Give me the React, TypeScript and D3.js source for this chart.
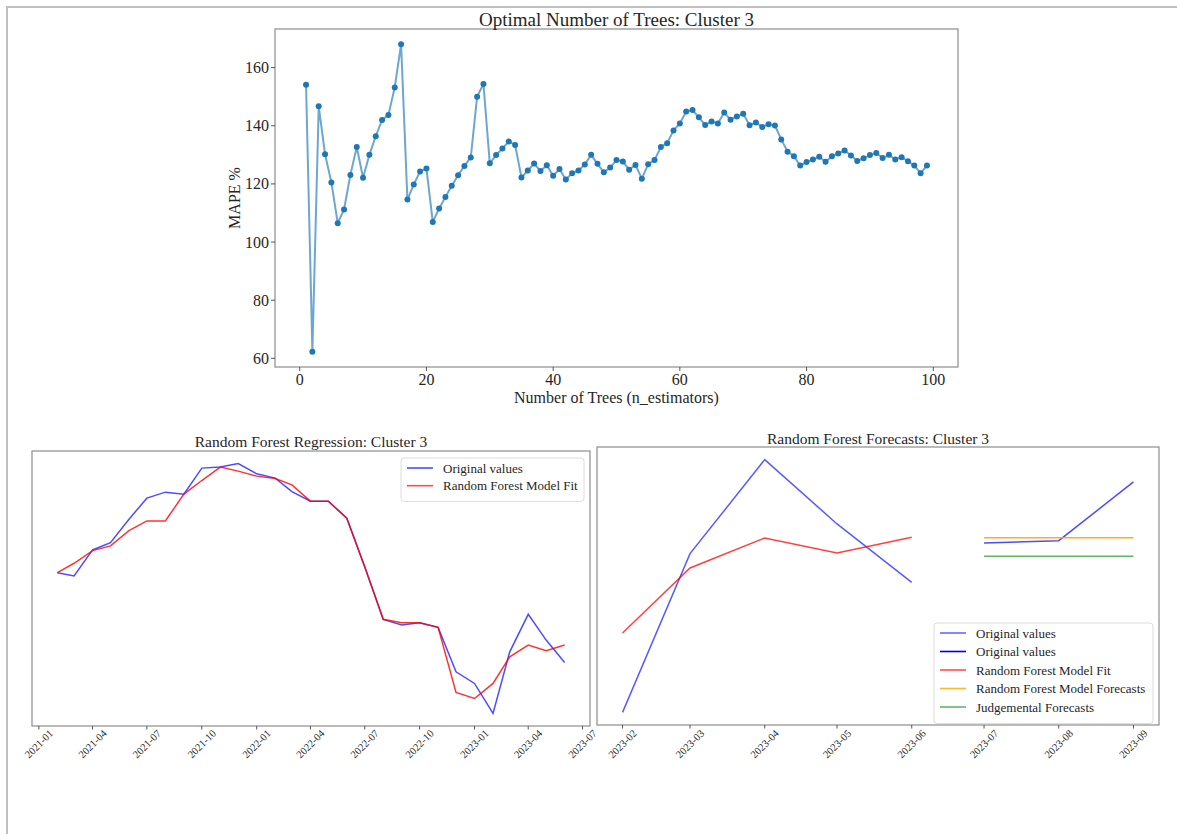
import React, { useEffect, useRef } from "react";
import * as d3 from "d3";

// --- top chart: MAPE % for n_estimators = 1..99
const treeCounts = d3.range(1, 100);
const mapeValues = [
  154.1, 62.3, 146.7, 130.2, 120.5, 106.5, 111.2, 123.1, 132.7, 122.1,
  130.0, 136.4, 142.0, 143.7, 153.2, 168.0, 114.6, 119.8, 124.3, 125.3,
  106.9, 111.5, 115.5, 119.4, 123.0, 126.2, 129.1, 150.0, 154.4, 127.1,
  129.9, 132.2, 134.6, 133.4, 122.2, 124.6, 127.0, 124.4, 126.4, 122.8,
  125.1, 121.5, 123.7, 124.6, 126.7, 130.0, 126.9, 124.0, 125.6, 128.2,
  127.7, 124.9, 126.5, 121.8, 126.8, 128.2, 132.7, 134.0, 138.4, 140.8,
  144.9, 145.4, 142.9, 140.3, 141.5, 140.8, 144.6, 142.1, 143.2, 144.1,
  140.2, 141.1, 139.6, 140.5, 140.1, 135.3, 131.1, 129.5, 126.3, 127.5,
  128.4, 129.3, 127.6, 129.5, 130.5, 131.5, 129.8, 127.9, 128.8, 129.9,
  130.6, 128.9, 130.0, 128.4, 129.2, 127.8, 126.3, 123.7, 126.3
];
const mapeYTicks = [60, 80, 100, 120, 140, 160];
const mapeXTicks = [0, 20, 40, 60, 80, 100];

// --- bottom left: regression fit, monthly 2021-02 .. 2023-06
const fitMonths = [
  "2021-02", "2021-03", "2021-04", "2021-05", "2021-06", "2021-07", "2021-08", "2021-09",
  "2021-10", "2021-11", "2021-12", "2022-01", "2022-02", "2022-03", "2022-04", "2022-05",
  "2022-06", "2022-07", "2022-08", "2022-09", "2022-10", "2022-11", "2022-12", "2023-01",
  "2023-02", "2023-03", "2023-04", "2023-05", "2023-06"
];
const fitOriginal = [
  227.3, 224.0, 250.0, 257.3, 280.7, 301.7, 307.7, 305.7, 331.7, 332.7, 336.3, 326.0,
  321.7, 308.3, 298.7, 298.7, 281.7, 233.3, 180.7, 175.0, 177.3, 172.7, 128.3, 116.7,
  86.7, 148.3, 185.7, 160.0, 137.7
];
const fitModel = [
  227.3, 236.7, 249.3, 254.0, 269.3, 279.0, 279.0, 305.7, 319.3, 332.7, 328.7, 323.7,
  321.3, 315.0, 298.7, 298.7, 281.7, 233.3, 180.7, 177.3, 177.3, 172.7, 107.7, 101.7,
  116.7, 143.3, 155.0, 149.3, 155.0
];

// --- bottom right: forecasts
const testMonths = ["2023-02", "2023-03", "2023-04", "2023-05", "2023-06"];
const testOriginal = [87.3, 246.0, 340.0, 275.7, 217.3];
const testFit = [166.7, 231.7, 261.7, 246.7, 262.3];
const futureMonths = ["2023-07", "2023-08", "2023-09"];
const futureOriginal = [256.7, 259.0, 317.7];
const rfForecasts = [262.0, 262.0, 262.0];
const judgementalForecasts = [243.3, 243.3, 243.3];

const FONT = "'Liberation Serif', 'DejaVu Serif', serif";
const TEXT = "#262626";
const SPINE = "#8c8c8c";

const parseMonth = d3.utcParse("%Y-%m");
const fmtMonth = d3.utcFormat("%Y-%m");

const padded = (lo, hi) => {
  const p = (hi - lo) * 0.05;
  return [lo - p, hi + p];
};

const frame = (g, x0, y0, x1, y1) =>
  g
    .append("rect")
    .attr("x", x0)
    .attr("y", y0)
    .attr("width", x1 - x0)
    .attr("height", y1 - y0)
    .attr("fill", "none")
    .attr("stroke", SPINE)
    .attr("stroke-width", 1.2);

const legend = (g, x0, y0, w, rowH, items) => {
  const h = rowH * items.length + 8;
  g.append("rect")
    .attr("x", x0)
    .attr("y", y0)
    .attr("width", w)
    .attr("height", h)
    .attr("rx", 3)
    .attr("fill", "white")
    .attr("fill-opacity", 0.85)
    .attr("stroke", "#dcdcdc");
  items.forEach((it, i) => {
    const cy = y0 + 10 + i * rowH;
    g.append("line")
      .attr("x1", x0 + 6)
      .attr("x2", x0 + 32)
      .attr("y1", cy)
      .attr("y2", cy)
      .attr("stroke", it.color)
      .attr("stroke-opacity", it.opacity)
      .attr("stroke-width", 1.6);
    g.append("text")
      .attr("x", x0 + 42)
      .attr("y", cy)
      .attr("dominant-baseline", "central")
      .attr("font-size", 13)
      .attr("fill", TEXT)
      .text(it.label);
  });
};

const dateAxis = (g, x, ticks, yBase, labelY) => {
  ticks.forEach(t => {
    g.append("line")
      .attr("x1", x(t))
      .attr("x2", x(t))
      .attr("y1", yBase)
      .attr("y2", yBase + 3.5)
      .attr("stroke", "#555");
    g.append("text")
      .attr("transform", `translate(${x(t)},${labelY}) rotate(-45)`)
      .attr("text-anchor", "middle")
      .attr("dominant-baseline", "central")
      .attr("font-size", 10.5)
      .attr("fill", TEXT)
      .text(fmtMonth(t));
  });
};

const App = () => {
  const ref = useRef();

  useEffect(() => {
    const svg = d3.select(ref.current);
    svg.selectAll("*").remove();
    svg.attr("font-family", FONT);

    // page border
    svg.append("path")
      .attr("d", "M7,834 L7,7 L1177,7")
      .attr("fill", "none")
      .attr("stroke", "#c0c0c0")
      .attr("stroke-width", 2);

    // === TOP CHART ===
    const top = svg.append("g");
    const tl = 275, tr = 958, tt = 29, tb = 367;
    const x = d3.scaleLinear().domain(padded(1, 99)).range([tl, tr]);
    const y = d3.scaleLinear().domain(padded(d3.min(mapeValues), d3.max(mapeValues))).range([tb, tt]);

    frame(top, tl, tt, tr, tb);

    mapeXTicks.forEach(t => {
      top.append("line").attr("x1", x(t)).attr("x2", x(t)).attr("y1", tb).attr("y2", tb + 4).attr("stroke", "#555");
      top.append("text")
        .attr("x", x(t))
        .attr("y", tb + 12)
        .attr("text-anchor", "middle")
        .attr("dominant-baseline", "central")
        .attr("font-size", 16)
        .attr("fill", TEXT)
        .text(t);
    });
    mapeYTicks.forEach(t => {
      top.append("line").attr("x1", tl - 4).attr("x2", tl).attr("y1", y(t)).attr("y2", y(t)).attr("stroke", "#555");
      top.append("text")
        .attr("x", tl - 6)
        .attr("y", y(t))
        .attr("text-anchor", "end")
        .attr("dominant-baseline", "central")
        .attr("font-size", 16)
        .attr("fill", TEXT)
        .text(t);
    });

    const line = d3.line().x((d, i) => x(treeCounts[i])).y(d => y(d));
    top.append("path")
      .attr("d", line(mapeValues))
      .attr("fill", "none")
      .attr("stroke", "#1f77b4")
      .attr("stroke-opacity", 0.65)
      .attr("stroke-width", 2);
    top.selectAll("circle")
      .data(mapeValues)
      .join("circle")
      .attr("cx", (d, i) => x(treeCounts[i]))
      .attr("cy", d => y(d))
      .attr("r", 3)
      .attr("fill", "#1f77b4");

    top.append("text")
      .attr("x", (tl + tr) / 2)
      .attr("y", 19)
      .attr("text-anchor", "middle")
      .attr("dominant-baseline", "central")
      .attr("font-size", 19)
      .attr("fill", TEXT)
      .text("Optimal Number of Trees: Cluster 3");
    top.append("text")
      .attr("x", (tl + tr) / 2)
      .attr("y", 397)
      .attr("text-anchor", "middle")
      .attr("dominant-baseline", "central")
      .attr("font-size", 16)
      .attr("fill", TEXT)
      .text("Number of Trees (n_estimators)");
    top.append("text")
      .attr("transform", `translate(234,${(tt + tb) / 2}) rotate(-90)`)
      .attr("text-anchor", "middle")
      .attr("dominant-baseline", "central")
      .attr("font-size", 16)
      .attr("fill", TEXT)
      .text("MAPE %");

    // === BOTTOM LEFT: regression ===
    const bl = svg.append("g");
    const l0 = 32, l1 = 590, lt = 451, lb = 726;
    const fitDates = fitMonths.map(parseMonth);
    const lx = d3.scaleUtc()
      .domain(padded(+fitDates[0], +fitDates[fitDates.length - 1]))
      .range([l0, l1]);
    const allFit = fitOriginal.concat(fitModel);
    const ly = d3.scaleLinear().domain(padded(d3.min(allFit), d3.max(allFit))).range([lb, lt]);

    frame(bl, l0, lt, l1, lb);
    dateAxis(bl, lx, d3.utcMonth.every(3).range(new Date(lx.domain()[0]), new Date(lx.domain()[1])), lb, 744);

    const fitLine = d3.line().x((d, i) => lx(fitDates[i])).y(d => ly(d));
    bl.append("path").attr("d", fitLine(fitOriginal)).attr("fill", "none")
      .attr("stroke", "blue").attr("stroke-opacity", 0.7).attr("stroke-width", 1.5);
    bl.append("path").attr("d", fitLine(fitModel)).attr("fill", "none")
      .attr("stroke", "red").attr("stroke-opacity", 0.8).attr("stroke-width", 1.5);

    bl.append("text")
      .attr("x", (l0 + l1) / 2)
      .attr("y", 441)
      .attr("text-anchor", "middle")
      .attr("dominant-baseline", "central")
      .attr("font-size", 15.5)
      .attr("fill", TEXT)
      .text("Random Forest Regression: Cluster 3");

    legend(bl, 401, 458, 183, 17.7, [
      { label: "Original values", color: "blue", opacity: 0.7 },
      { label: "Random Forest Model Fit", color: "red", opacity: 0.7 }
    ]);

    // === BOTTOM RIGHT: forecasts ===
    const br = svg.append("g");
    const r0 = 597, r1 = 1159, rt = 447, rb = 725;
    const testDates = testMonths.map(parseMonth);
    const futureDates = futureMonths.map(parseMonth);
    const rx = d3.scaleUtc()
      .domain(padded(+testDates[0], +futureDates[futureDates.length - 1]))
      .range([r0, r1]);
    const allFc = [].concat(testOriginal, testFit, futureOriginal, rfForecasts, judgementalForecasts);
    const ry = d3.scaleLinear().domain(padded(d3.min(allFc), d3.max(allFc))).range([rb, rt]);

    frame(br, r0, rt, r1, rb);
    dateAxis(br, rx, d3.utcMonth.range(new Date(rx.domain()[0]), new Date(rx.domain()[1])), rb, 744);

    const series = [
      { dates: testDates, values: testOriginal, color: "blue", opacity: 0.65 },
      { dates: futureDates, values: futureOriginal, color: "blue", opacity: 0.7 },
      { dates: testDates, values: testFit, color: "red", opacity: 0.75 },
      { dates: futureDates, values: rfForecasts, color: "orange", opacity: 0.9 },
      { dates: futureDates, values: judgementalForecasts, color: "green", opacity: 0.6 }
    ];
    series.forEach(s => {
      const ln = d3.line().x((d, i) => rx(s.dates[i])).y(d => ry(d));
      br.append("path").attr("d", ln(s.values)).attr("fill", "none")
        .attr("stroke", s.color).attr("stroke-opacity", s.opacity).attr("stroke-width", 1.5);
    });

    br.append("text")
      .attr("x", (r0 + r1) / 2)
      .attr("y", 438)
      .attr("text-anchor", "middle")
      .attr("dominant-baseline", "central")
      .attr("font-size", 15.5)
      .attr("fill", TEXT)
      .text("Random Forest Forecasts: Cluster 3");

    legend(br, 934, 623, 219, 18.5, [
      { label: "Original values", color: "blue", opacity: 0.6 },
      { label: "Original values", color: "#0000dd", opacity: 1 },
      { label: "Random Forest Model Fit", color: "red", opacity: 0.7 },
      { label: "Random Forest Model Forecasts", color: "orange", opacity: 0.8 },
      { label: "Judgemental Forecasts", color: "green", opacity: 0.6 }
    ]);
  }, []);

  return (
    <svg
      ref={ref}
      width={1177}
      height={834}
      style={{ position: "absolute", left: 0, top: 0, background: "white" }}
    />
  );
};

export default App;
